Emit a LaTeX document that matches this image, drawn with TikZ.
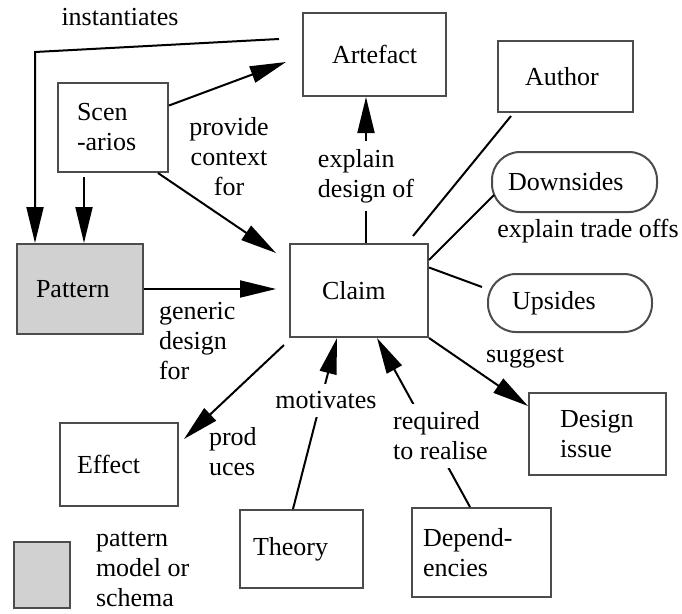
\documentclass[tikz,border=0pt]{standalone}
\usepackage{fontspec}
\setmainfont{Liberation Serif}
\usetikzlibrary{arrows.meta}

\begin{document}
\begin{tikzpicture}[x=1pt, y=-1pt, ->, >={Triangle[length=36pt,width=17pt]},
        line width=2pt, font=\fontsize{26}{30}\selectfont]
      \tikzstyle{box} = [draw=black!70, inner ysep=0pt, align=left]
      \tikzstyle{oval} = [box, rounded corners=28pt]
      \tikzstyle{word} = [align=left, inner sep=0pt]
      \tikzstyle{gap} = [word, fill=white, inner xsep=2pt, inner ysep=8pt]
      \useasboundingbox (0,0) rectangle (682,613);
      % boxes
      \node (Artefact) [box, text width=85pt, inner xsep=29pt, minimum height=83pt] at (374.5,54.5) {Artefact};
      \node (Author) [box, text width=81pt, inner xsep=27pt, minimum height=71pt] at (565.5,76.5) {Author};
      \node (Scenarios) [box, text width=72pt, inner xsep=19pt, minimum height=89pt] at (113,127.5) {Scen\\-arios};
      \node (Downsides) [oval, text width=133pt, inner xsep=16pt, minimum height=60pt] at (574.5,182) {Downsides};
      \node (Pattern) [box, fill=black!18, text width=88pt, inner xsep=19pt, minimum height=90pt] at (80,289) {Pattern};
      \node (Claim) [box, text width=74pt, inner xsep=32pt, minimum height=93pt] at (359,290.5) {Claim};
      \node (Upsides) [oval, text width=116pt, inner xsep=24pt, minimum height=58pt] at (570,303) {Upsides};
      \node (Effect) [box, text width=84pt, inner xsep=17pt, minimum height=83pt] at (119,464.5) {Effect};
      \node (Design) [box, text width=75pt, inner xsep=31pt, minimum height=82pt] at (597.5,434) {Design\\issue};
      \node (Theory) [box, text width=97pt, inner xsep=13pt, minimum height=78pt] at (301.5,549) {Theory};
      \node (Depend) [box, text width=117pt, inner xsep=11pt, minimum height=89pt] at (481.5,552.5) {Depend-\\encies};
      \node (Key) [box, fill=black!18, minimum width=56pt, minimum height=66pt] at (42,575) {};
      % links
      \coordinate (bend) at (35,52);
      \draw ([shift={(-23pt,15.5pt)}]Artefact.west) -- (bend) -- (bend |- Pattern.north);
      \node (instantiates) [word] at (120,17) {instantiates};
      \draw ([yshift=22pt]Scenarios.east) -- ([shift={(-16pt,-7.5pt)}]Artefact.west);
      \draw[shorten <=4pt] ([xshift=-29pt]Scenarios.south) -- ([xshift=-29pt]Scenarios.south |- Pattern.north);
      \draw ([xshift=-11pt]Scenarios.south east) -- ([shift={(-13pt,-10pt)}]Claim.north west);
      \node (provide) [word, align=center] at (229,157) {provide\\context\\for};
      \draw[shorten >=13pt] (Pattern.east) -- (Pattern.east -| Claim.west);
      \node (generic) [word, anchor=west] at (158,341) {generic\\design\\for};
      \draw ([xshift=7pt]Claim.north) -- node[gap, pos=0.46] {explain\\design of} ([xshift=-8.5pt]Artefact.south);
      \draw[-] ([shift={(14pt,-3pt)}]Author.south west) -- ([shift={(-16pt,7pt)}]Claim.north east);
      \draw[-] ([shift={(3pt,-13pt)}]Downsides.west) -- ([yshift=30.5pt]Claim.east);
      \node (tradeoffs) [word] at (588,231) {explain trade offs};
      \draw[-] ([yshift=23pt]Claim.east) -- ([shift={(-5pt,16pt)}]Upsides.west);
      \draw ([shift={(-5pt,-7pt)}]Claim.south west) -- ([shift={(5pt,-17pt)}]Effect.north east);
      \node (produces) [word, anchor=west] at (208,452) {prod\\uces};
      \draw (Claim.south east) -- ([yshift=-14pt]Design.north west);
      \node (suggest) [word] at (525,358) {suggest};
      \draw ([xshift=-8.5pt]Theory.north) -- node[gap, pos=0.636, xshift=5pt] {motivates} ([xshift=-22pt]Claim.south);
      \draw ([xshift=-11.5pt]Depend.north) -- node[gap, pos=0.42, xshift=9.5pt] {required\\to realise} ([xshift=18pt]Claim.south);
      % key
      \node (keytext) [word, anchor=west] at (95,569) {pattern\\model or\\schema};
    \end{tikzpicture}
\end{document}
